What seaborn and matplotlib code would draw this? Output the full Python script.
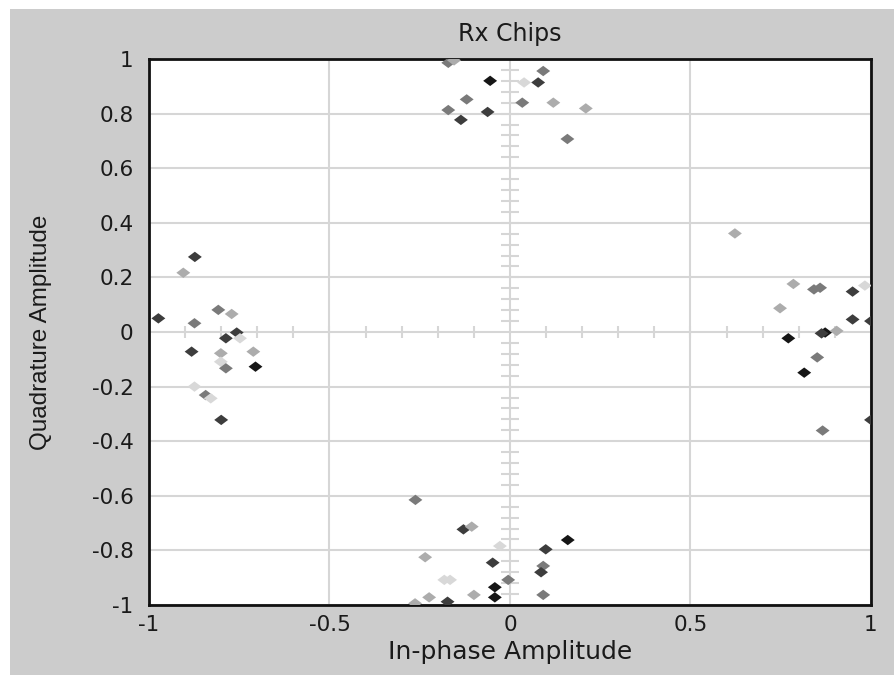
import numpy as np
import pandas as pd
import seaborn as sns
import matplotlib.pyplot as plt
from matplotlib.patches import Rectangle

sns.set_style('white')
plt.rcParams['font.family'] = ['DejaVu Sans']

# received chips: in-phase, quadrature, shade level (0 = darkest, 4 = lightest)
# left cluster
i_left = [-0.873, -0.905, -0.974, -0.808, -0.771, -0.874, -0.757, -0.787, -0.748, -0.882,
          -0.801, -0.711, -0.801, -0.787, -0.705, -0.874, -0.843, -0.829, -0.800]
q_left = [0.275, 0.217, 0.050, 0.081, 0.066, 0.032, -0.002, -0.023, -0.023, -0.072,
          -0.078, -0.072, -0.109, -0.133, -0.127, -0.200, -0.231, -0.243, -0.322]
s_left = [1, 3, 1, 2, 3, 2, 1, 1, 4, 1, 3, 3, 4, 2, 0, 4, 2, 4, 1]

# top cluster
i_top = [-0.171, -0.155, -0.055, 0.039, 0.078, 0.092, -0.120, 0.034, 0.120, 0.210,
         -0.171, -0.062, -0.136, 0.159]
q_top = [0.986, 0.995, 0.920, 0.914, 0.914, 0.956, 0.852, 0.840, 0.840, 0.819,
         0.813, 0.806, 0.777, 0.707]
s_top = [2, 3, 0, 4, 1, 2, 2, 2, 3, 3, 2, 1, 1, 2]

# bottom cluster
i_bot = [-0.262, -0.129, -0.106, 0.160, 0.099, -0.028, -0.235, -0.048, 0.092, 0.086,
         -0.182, -0.166, -0.005, -0.042, -0.042, -0.100, -0.224, 0.092, -0.173, -0.263]
q_bot = [-0.615, -0.723, -0.713, -0.762, -0.796, -0.784, -0.825, -0.845, -0.857, -0.880,
         -0.908, -0.908, -0.908, -0.935, -0.972, -0.963, -0.972, -0.963, -0.988, -0.994]
s_bot = [2, 1, 3, 0, 1, 4, 3, 1, 2, 1, 4, 4, 2, 0, 0, 3, 3, 2, 1, 3]

# right cluster
i_right = [0.623, 0.785, 0.842, 0.859, 0.949, 0.983, 0.748, 0.949, 1.0, 0.771,
           0.873, 0.863, 0.905, 0.851, 0.815, 1.0, 0.866]
q_right = [0.361, 0.176, 0.156, 0.162, 0.148, 0.170, 0.087, 0.046, 0.040, -0.023,
           -0.002, -0.005, 0.004, -0.093, -0.149, -0.322, -0.361]
s_right = [3, 3, 2, 2, 1, 4, 3, 1, 1, 0, 0, 1, 3, 2, 0, 1, 2]

shade_colors = {0: '#161616', 1: '#3d3d3d', 2: '#7a7a7a', 3: '#acacac', 4: '#d8d8d8'}

x_ticks = [-1, -0.5, 0, 0.5, 1]
x_labels = ['-1', '-0.5', '0', '0.5', '1']
y_ticks = [-1, -0.8, -0.6, -0.4, -0.2, 0, 0.2, 0.4, 0.6, 0.8, 1]
y_labels = ['-1', '-0.8', '-0.6', '-0.4', '-0.2', '0', '0.2', '0.4', '0.6', '0.8', '1']

df = pd.DataFrame({
    'I': i_left + i_top + i_bot + i_right,
    'Q': q_left + q_top + q_bot + q_right,
    'shade': s_left + s_top + s_bot + s_right,
})

grid_c = '#d6d6d6'

fig = plt.figure(figsize=(8.95, 6.75), dpi=100, facecolor='white')
bg = Rectangle((10 / 895, 0), 1, 1 - 9 / 675, transform=fig.transFigure,
               facecolor='#cccccc', edgecolor='none', zorder=-10)
fig.add_artist(bg)
ax = fig.add_axes([149 / 895, 70 / 675, 722 / 895, 546 / 675])
ax.set_zorder(1)
ax.set_facecolor('white')

diamond = [(-1, 0), (0, 0.75), (1, 0), (0, -0.75), (-1, 0)]
sns.scatterplot(data=df, x='I', y='Q', hue='shade', palette=shade_colors, marker=diamond,
                s=100, linewidth=0, legend=False, ax=ax, zorder=3)

ax.set_xlim(-1, 1)
ax.set_ylim(-1, 1)
ax.set_xticks(x_ticks)
ax.set_xticklabels(x_labels)
ax.set_yticks(y_ticks)
ax.set_yticklabels(y_labels)
ax.grid(True, color=grid_c, linewidth=1.5, zorder=0)
ax.set_axisbelow(True)

# small tick marks along the centre cross
xt = np.round(np.arange(-0.9, 0.91, 0.1), 2)
xt = xt[xt != 0]
ax.vlines(xt, -0.022, 0.022, color=grid_c, linewidth=1.5, zorder=1)
yt = np.round(np.arange(-0.96, 0.97, 0.04), 2)
yt = yt[yt != 0]
ax.hlines(yt, -0.025, 0.025, color=grid_c, linewidth=1.5, zorder=1)

ax.tick_params(axis='both', length=0, labelsize=15.5, colors='#1a1a1a')
ax.tick_params(axis='x', pad=7)
ax.tick_params(axis='y', pad=11)

for sp in ax.spines.values():
    sp.set_linewidth(2)
    sp.set_color('#111111')

ax.set_title('Rx Chips', fontsize=17, pad=13, color='#1a1a1a')
ax.set_xlabel('In-phase Amplitude', fontsize=18, labelpad=4, color='#1a1a1a')
ax.set_ylabel('Quadrature Amplitude', fontsize=17.5, family=['Liberation Sans'],
              color='#1a1a1a', va='center')
ax.yaxis.set_label_coords(-0.15, 0.5)

fig.savefig('out.png', dpi=100)
